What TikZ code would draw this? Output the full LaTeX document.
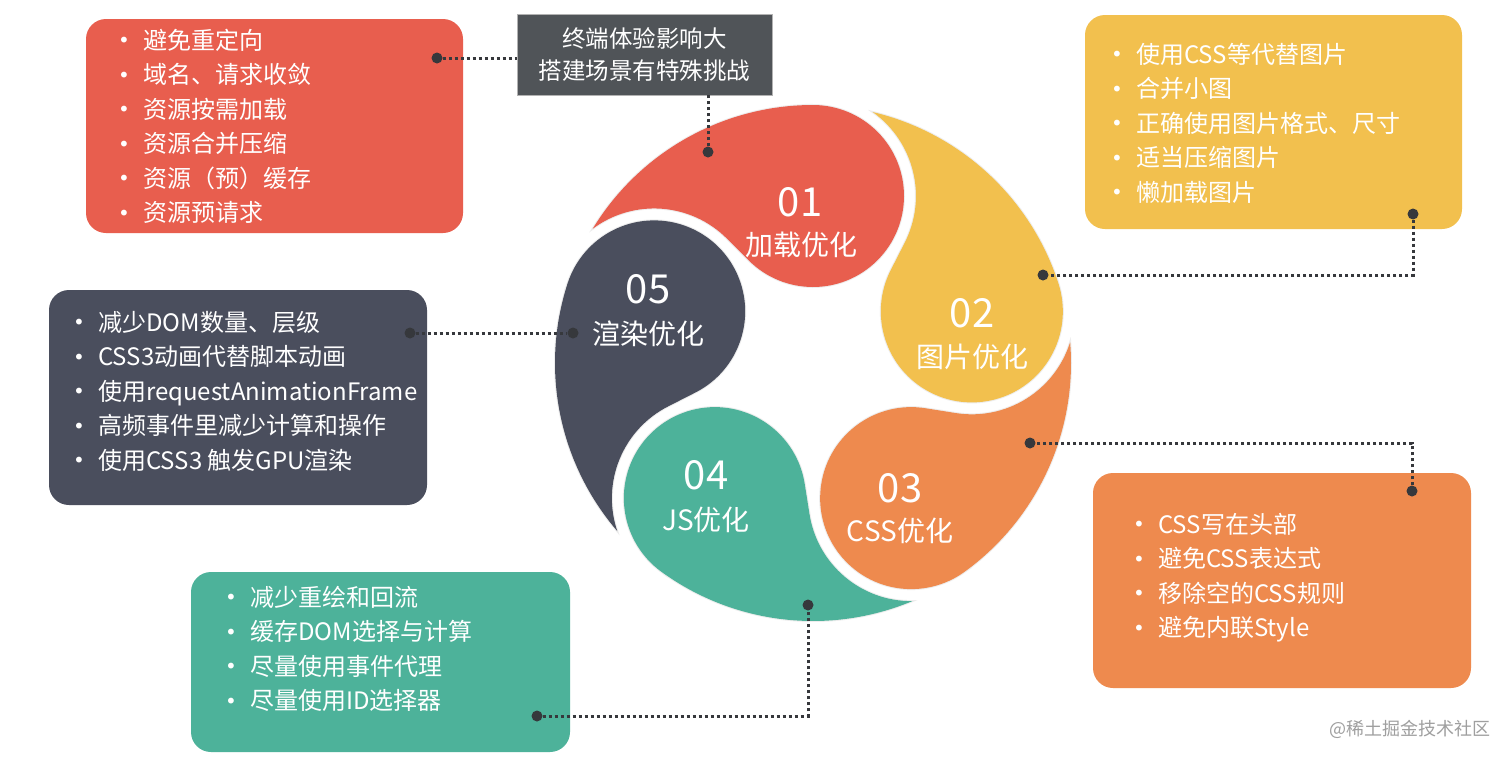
\documentclass[tikz,border=0pt]{standalone}
\usepackage{fontspec}
\setmainfont{Noto Sans CJK SC}
\newfontfamily\bulletfont{DejaVu Sans}
\usepackage{xcolor}
\usepackage{tikz}
\usetikzlibrary{positioning,calc}
\definecolor{loadred}{HTML}{E85E4E}
\definecolor{picyellow}{HTML}{F2C04E}
\definecolor{cssorange}{HTML}{EE8A4E}
\definecolor{jsgreen}{HTML}{4DB29A}
\definecolor{renderdark}{HTML}{4A4E5D}
\definecolor{hdrgray}{HTML}{505458}
\definecolor{linkgray}{HTML}{36383C}
\newcommand{\itm}{\makebox[22pt][l]{\hspace{-3pt}\raisebox{1.5pt}{\bulletfont\fontsize{20}{20}\selectfont •}}}

\begin{document}
\begin{tikzpicture}[x=1pt,y=1pt,
  box/.style={rounded corners=20pt,minimum width=377pt,minimum height=214pt,inner sep=0pt},
  lst/.style={font=\fontsize{24}{34.5}\selectfont,text=white,align=left,inner sep=0pt,anchor=west},
  num/.style={font=\fontsize{40}{40}\selectfont,text=white,inner sep=0pt},
  ttl/.style={font=\fontsize{28}{28}\selectfont,text=white,inner sep=0pt},
  dot/.style={circle,fill=linkgray,minimum size=11pt,inner sep=0pt},
  link/.style={draw=linkgray,line width=3pt,dash pattern=on 3pt off 3pt}]
\useasboundingbox[fill=white] (0,0) rectangle (1512,-761);
% petals, one shape turned five times
\coordinate (O) at (813,-363);
\foreach \ang/\col in {18/picyellow,90/loadred,162/renderdark,234/jsgreen,306/cssorange}
  \fill[\col,shift={(O)},rotate=\ang,preaction={draw=black!7,line width=2pt}]
    (258,0) arc[start angle=0,end angle=58.65,radius=258]
    arc[start angle=36.62,end angle=-45.18,radius=103]
    -- (102.86,64.55)
    arc[start angle=134.82,end angle=360,radius=91] -- cycle;
\node[num] (n01) at (800,-202) {01};
\node[ttl] (t01) at (801,-245) {加载优化};
\node[num] (n02) at (972,-313) {02};
\node[ttl] (t02) at (972,-357) {图片优化};
\node[num] (n03) at (900,-488) {03};
\node[ttl] (t03) at (900,-531) {CSS优化};
\node[num] (n04) at (706,-475) {04};
\node[ttl] (t04) at (706,-520) {JS优化};
\node[num] (n05) at (648,-289) {05};
\node[ttl] (t05) at (648,-334) {渲染优化};
% boxes
\node[box,fill=loadred] (loadbox) at (274.5,-126) {};
\node[lst] (loadlst) at (121,-126.5) {\itm 避免重定向\\\itm 域名、请求收敛\\\itm 资源按需加载\\\itm 资源合并压缩\\\itm 资源（预）缓存\\\itm 资源预请求};
\node[box,fill=picyellow] (picbox) at (1273.5,-122) {};
\node[lst] (piclst) at (1114,-123) {\itm 使用CSS等代替图片\\\itm 合并小图\\\itm 正确使用图片格式、尺寸\\\itm 适当压缩图片\\\itm 懒加载图片};
\node[box,fill=renderdark,minimum width=378pt,minimum height=215pt] (renderbox) at (238,-397.5) {};
\node[lst] (renderlst) at (76,-391) {\itm 减少DOM数量、层级\\\itm CSS3动画代替脚本动画\\\itm 使用requestAnimationFrame\\\itm 高频事件里减少计算和操作\\\itm 使用CSS3 触发GPU渲染};
\node[box,fill=cssorange,minimum width=378pt,minimum height=215pt] (cssbox) at (1282,-580.5) {};
\node[lst] (csslst) at (1136,-577.5) {\itm CSS写在头部\\\itm 避免CSS表达式\\\itm 移除空的CSS规则\\\itm 避免内联Style};
\node[box,fill=jsgreen,minimum width=379pt,minimum height=180pt] (jsbox) at (380.5,-662) {};
\node[lst] (jslst) at (228,-649) {\itm 减少重绘和回流\\\itm 缓存DOM选择与计算\\\itm 尽量使用事件代理\\\itm 尽量使用ID选择器};
\node[fill=hdrgray,draw=gray!60,minimum width=255pt,minimum height=81pt,align=center,
  text=white,font=\fontsize{23.5}{32}\selectfont] (hdr) at (644.5,-54.5) {终端体验影响大\\搭建场景有特殊挑战};
% dotted links
\node[dot] (loaddot) at (437,-58) {};
\draw[link] (loaddot) -- (loaddot -| hdr.west);
\node[dot] (hdrdot) at (708,-152) {};
\draw[link] (hdrdot) -- (hdrdot |- hdr.south);
\node[dot] (picdot) at (1413,-214) {};
\node[dot] (picend) at (1043,-275) {};
\draw[link] (picdot) |- (picend);
\node[dot] (cssdot) at (1412,-491) {};
\node[dot] (cssend) at (1030,-443) {};
\draw[link] (cssdot) |- (cssend);
\node[dot] (renderdot) at (410,-333) {};
\node[dot] (renderend) at (573,-333) {};
\draw[link] (renderdot) -- (renderend);
\node[dot] (jsdot) at (537,-716) {};
\node[dot] (jsend) at (808,-605) {};
\draw[link] (jsdot) -| (jsend);
\node[text=gray!75,font=\fontsize{18}{18}\selectfont] (mark) at (1410,-729) {@稀土掘金技术社区};
\end{tikzpicture}
\end{document}
